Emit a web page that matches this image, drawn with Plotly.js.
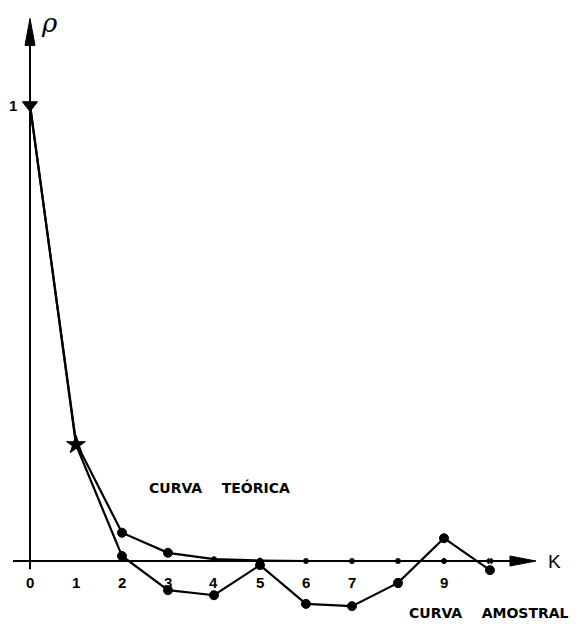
<!DOCTYPE html>
<html>
<head>
<meta charset="utf-8">
<script src="https://cdn.plot.ly/plotly-3.0.1.min.js"></script>
<style>
  html, body { margin: 0; padding: 0; background: #fff; }
  #chart { width: 580px; height: 627px; }
</style>
</head>
<body>
<div id="chart"></div>
<script>
// Lags and autocorrelation values
const lags = [0, 1, 2, 3, 4, 5, 6, 7, 8, 9, 10];
const rhoTeorica = [1, 0.26, 0.062, 0.018, 0.004, 0.001, 0, 0, 0, 0, 0];
const rhoAmostral = [1, 0.255, 0.011, -0.064, -0.075, -0.009, -0.094, -0.099, -0.048, 0.05, -0.02];
const xTickLabels = ['0', '1', '2', '3', '4', '5', '6', '7', '8', '9'];
const yTickValues = [1];
const yTickLabels = ['1'];

// Extent of the drawn axes
const kAxisStart = -0.37, kAxisTip = 11.0;
const rhoAxisStart = -0.018, rhoAxisTip = 1.19;

const ink = '#000';
const labelFont = { family: 'Liberation Sans, Arial, sans-serif', size: 15, color: ink, weight: 'bold' };
const nameFont = { family: 'DejaVu Sans, sans-serif', size: 14, color: ink, weight: 'bold' };

// Point styles: the first two lags carry their own symbols
const amostralSymbols = lags.map((k) => k === 0 ? 'triangle-down' : (k === 1 ? 'star' : 'circle'));
const amostralSizes = lags.map((k) => k === 0 ? 13 : (k === 1 ? 14 : 9));
const teoricaSizes = lags.map((k) => (k === 2 || k === 3) ? 9 : 5);
const teoricaSymbols = lags.map((k) => k === 10 ? 'x' : 'circle');

const traces = [
  {
    x: lags, y: rhoTeorica, type: 'scatter', mode: 'lines+markers',
    line: { color: ink, width: 2.2 },
    marker: { color: ink, size: teoricaSizes, symbol: teoricaSymbols, opacity: 1, line: { color: ink, width: 1 } },
    hoverinfo: 'skip', showlegend: false
  },
  {
    x: lags, y: rhoAmostral, type: 'scatter', mode: 'lines+markers',
    line: { color: ink, width: 2.2 },
    marker: { color: ink, size: amostralSizes, symbol: amostralSymbols, opacity: 1, line: { color: ink, width: 1 } },
    hoverinfo: 'skip', showlegend: false
  }
];

// Axis lines and their long, narrow arrowheads
const shapes = [
  { type: 'line', xref: 'x', yref: 'y', x0: kAxisStart, x1: kAxisTip - 0.3, y0: 0, y1: 0,
    line: { color: ink, width: 2 }, layer: 'below' },
  { type: 'line', xref: 'x', yref: 'y', x0: 0, x1: 0, y0: rhoAxisStart, y1: rhoAxisTip - 0.03,
    line: { color: ink, width: 2 }, layer: 'below' },
  { type: 'path', xref: 'x', yref: 'y', xsizemode: 'pixel', ysizemode: 'pixel',
    xanchor: kAxisTip, yanchor: 0, path: 'M0,0 L-26,-5 L-26,5 Z',
    fillcolor: ink, line: { color: ink, width: 1 } },
  { type: 'path', xref: 'x', yref: 'y', xsizemode: 'pixel', ysizemode: 'pixel',
    xanchor: 0, yanchor: rhoAxisTip, path: 'M0,0 L-5,-27 L5,-27 Z',
    fillcolor: ink, line: { color: ink, width: 1 } }
];

const annotations = [];

// Tick labels beneath the horizontal axis
xTickLabels.forEach((t, i) => {
  annotations.push({
    x: lags[i], y: -0.048, xref: 'x', yref: 'y', text: t, showarrow: false,
    font: labelFont, xanchor: 'center', yanchor: 'middle'
  });
});
// Tick label on the vertical axis
yTickValues.forEach((v, i) => {
  annotations.push({
    x: -0.37, y: v, xref: 'x', yref: 'y', text: yTickLabels[i], showarrow: false,
    font: labelFont, xanchor: 'center', yanchor: 'middle'
  });
});

// Axis names
annotations.push({
  x: 0.42, y: 1.18, xref: 'x', yref: 'y', text: '<i>ρ</i>', showarrow: false,
  font: { family: 'DejaVu Serif, serif', size: 26, color: ink }, xanchor: 'center', yanchor: 'middle'
});
annotations.push({
  x: 11.4, y: 0, xref: 'x', yref: 'y', text: 'K', showarrow: false,
  font: { family: 'Liberation Sans, Arial, sans-serif', size: 19, color: ink }, xanchor: 'center', yanchor: 'middle'
});

// Curve names
annotations.push({
  x: 4.13, y: 0.162, xref: 'x', yref: 'y', text: 'CURVA&nbsp;&nbsp;&nbsp;&nbsp;TEÓRICA', showarrow: false,
  font: nameFont, xanchor: 'center', yanchor: 'middle'
});
annotations.push({
  x: 9.98, y: -0.114, xref: 'x', yref: 'y', text: 'CURVA&nbsp;&nbsp;&nbsp;&nbsp;AMOSTRAL', showarrow: false,
  font: nameFont, xanchor: 'center', yanchor: 'middle'
});

const layout = {
  width: 580, height: 627,
  margin: { l: 0, r: 0, t: 0, b: 0 },
  paper_bgcolor: '#fff', plot_bgcolor: '#fff',
  xaxis: { range: [-0.652, 11.957], visible: false, fixedrange: true },
  yaxis: { range: [-0.1447, 1.2303], visible: false, fixedrange: true },
  shapes: shapes,
  annotations: annotations,
  showlegend: false
};

Plotly.newPlot('chart', traces, layout, { staticPlot: true, displayModeBar: false });
</script>
</body>
</html>
